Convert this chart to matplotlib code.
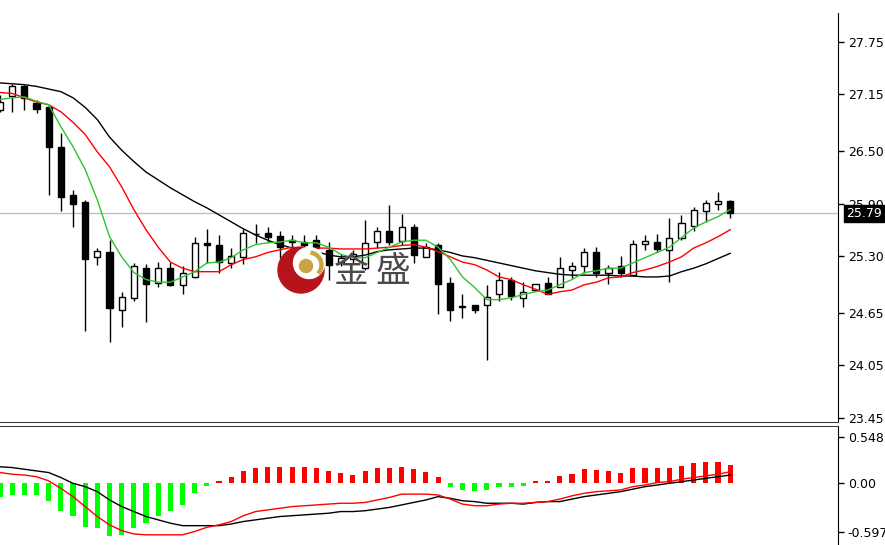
import matplotlib
matplotlib.use("Agg")
import matplotlib.pyplot as plt
from matplotlib.patches import Rectangle, Circle, Wedge
import numpy as np

# daily candles
opens = [26.97, 27.13, 27.24, 27.05, 27.01, 26.55, 26.00, 25.92, 25.29, 25.35,
         24.68, 24.82, 25.16, 24.99, 25.16, 24.97, 25.06, 25.45, 25.43, 25.22,
         25.29, 25.55, 25.56, 25.53, 25.48, 25.46, 25.48, 25.37, 25.23, 25.27,
         25.16, 25.46, 25.58, 25.47, 25.63, 25.29, 25.43, 24.99, 24.73, 24.74,
         24.74, 24.87, 25.02, 24.82, 24.91, 24.99, 24.94, 25.14, 25.18, 25.34,
         25.10, 25.18, 25.08, 25.44, 25.46, 25.37, 25.50, 25.64, 25.81, 25.90,
         25.93]
highs = [27.14, 27.27, 27.26, 27.09, 27.03, 26.71, 26.06, 25.94, 25.39, 25.48,
         24.89, 25.22, 25.21, 25.23, 25.23, 25.18, 25.52, 25.61, 25.54, 25.39,
         25.61, 25.67, 25.63, 25.58, 25.54, 25.54, 25.54, 25.46, 25.32, 25.37,
         25.71, 25.63, 25.88, 25.78, 25.67, 25.45, 25.45, 25.06, 24.87, 24.74,
         24.97, 25.12, 25.06, 25.00, 24.98, 25.06, 25.29, 25.23, 25.39, 25.40,
         25.20, 25.30, 25.48, 25.54, 25.55, 25.74, 25.77, 25.86, 25.94, 26.03,
         25.94]
lows = [26.95, 26.95, 26.97, 26.94, 26.00, 25.82, 25.63, 24.44, 25.20, 24.32,
        24.49, 24.78, 24.54, 24.95, 24.96, 24.87, 25.05, 25.22, 25.10, 25.16,
        25.21, 25.45, 25.46, 25.28, 25.37, 25.34, 25.39, 25.03, 25.19, 25.21,
        25.14, 25.39, 25.43, 25.43, 25.22, 25.29, 24.64, 24.56, 24.59, 24.65,
        24.11, 24.78, 24.80, 24.72, 24.91, 24.87, 24.94, 25.05, 25.11, 25.06,
        24.98, 25.06, 25.08, 25.37, 25.35, 25.00, 25.48, 25.58, 25.69, 25.83,
        25.74]
closes = [27.06, 27.24, 27.11, 26.98, 26.55, 25.98, 25.90, 25.27, 25.36, 24.70,
          24.83, 25.18, 24.98, 25.16, 24.97, 25.11, 25.45, 25.43, 25.23, 25.30,
          25.56, 25.55, 25.52, 25.40, 25.46, 25.42, 25.39, 25.20, 25.28, 25.32,
          25.45, 25.58, 25.46, 25.63, 25.31, 25.40, 24.98, 24.68, 24.72, 24.68,
          24.83, 25.02, 24.84, 24.89, 24.98, 24.87, 25.16, 25.18, 25.34, 25.11,
          25.16, 25.11, 25.44, 25.47, 25.38, 25.51, 25.68, 25.83, 25.91, 25.93,
          25.79]

# moving averages
ma_fast = [27.09, 27.11, 27.12, 27.07, 27.03, 26.78, 26.55, 26.29, 25.94, 25.52,
           25.29, 25.11, 25.03, 25.00, 25.00, 25.06, 25.12, 25.22, 25.23, 25.28,
           25.37, 25.43, 25.45, 25.46, 25.48, 25.45, 25.45, 25.40, 25.32, 25.28,
           25.28, 25.34, 25.40, 25.46, 25.48, 25.48, 25.40, 25.26, 25.06, 24.94,
           24.80, 24.80, 24.82, 24.86, 24.89, 24.91, 24.97, 25.03, 25.11, 25.13,
           25.16, 25.16, 25.22, 25.28, 25.34, 25.40, 25.51, 25.62, 25.69, 25.75,
           25.83]
ma_mid = [27.17, 27.16, 27.11, 27.06, 27.03, 26.95, 26.83, 26.69, 26.49, 26.32,
          26.09, 25.83, 25.60, 25.40, 25.23, 25.16, 25.12, 25.12, 25.12, 25.20,
          25.26, 25.29, 25.34, 25.37, 25.40, 25.39, 25.39, 25.39, 25.38, 25.38,
          25.38, 25.39, 25.40, 25.42, 25.43, 25.40, 25.35, 25.29, 25.23, 25.20,
          25.14, 25.06, 25.03, 24.97, 24.92, 24.86, 24.89, 24.91, 24.97, 25.00,
          25.05, 25.06, 25.11, 25.14, 25.18, 25.23, 25.29, 25.39, 25.45, 25.52,
          25.60]
ma_slow = [27.28, 27.27, 27.26, 27.24, 27.21, 27.18, 27.11, 27.00, 26.86, 26.66,
           26.51, 26.38, 26.26, 26.17, 26.08, 26.00, 25.92, 25.85, 25.77, 25.69,
           25.61, 25.54, 25.48, 25.43, 25.39, 25.37, 25.35, 25.31, 25.29, 25.29,
           25.31, 25.35, 25.37, 25.38, 25.39, 25.39, 25.37, 25.34, 25.30, 25.28,
           25.25, 25.22, 25.19, 25.16, 25.13, 25.11, 25.09, 25.08, 25.08, 25.08,
           25.08, 25.07, 25.07, 25.06, 25.06, 25.07, 25.12, 25.16, 25.21, 25.27,
           25.33]

# MACD panel
hist = [-0.17, -0.15, -0.15, -0.15, -0.22, -0.34, -0.40, -0.54, -0.55, -0.65,
        -0.63, -0.55, -0.49, -0.40, -0.34, -0.27, -0.13, -0.04, 0.02, 0.07,
        0.14, 0.18, 0.19, 0.19, 0.19, 0.19, 0.17, 0.14, 0.11, 0.09,
        0.14, 0.17, 0.18, 0.19, 0.16, 0.13, 0.07, -0.05, -0.09, -0.10,
        -0.09, -0.05, -0.05, -0.04, 0.02, 0.02, 0.08, 0.10, 0.16, 0.15,
        0.14, 0.12, 0.18, 0.18, 0.18, 0.18, 0.20, 0.24, 0.25, 0.25,
        0.21]
macd_main = [0.19, 0.18, 0.16, 0.14, 0.12, 0.06, -0.01, -0.05, -0.11, -0.21,
             -0.29, -0.35, -0.41, -0.45, -0.49, -0.52, -0.52, -0.52, -0.52, -0.50,
             -0.47, -0.45, -0.43, -0.41, -0.40, -0.39, -0.38, -0.37, -0.35, -0.35,
             -0.34, -0.32, -0.30, -0.27, -0.24, -0.21, -0.17, -0.19, -0.22, -0.23,
             -0.25, -0.25, -0.25, -0.26, -0.24, -0.23, -0.23, -0.20, -0.17, -0.15,
             -0.13, -0.11, -0.08, -0.05, -0.03, -0.01, 0.01, 0.03, 0.05, 0.07,
             0.09]
macd_signal = [0.12, 0.10, 0.09, 0.07, 0.02, -0.07, -0.17, -0.29, -0.41, -0.51,
               -0.58, -0.62, -0.63, -0.63, -0.63, -0.63, -0.59, -0.54, -0.51, -0.47,
               -0.40, -0.35, -0.33, -0.31, -0.29, -0.28, -0.27, -0.26, -0.25, -0.25,
               -0.24, -0.21, -0.18, -0.14, -0.14, -0.14, -0.15, -0.20, -0.26, -0.28,
               -0.28, -0.26, -0.25, -0.25, -0.24, -0.23, -0.20, -0.16, -0.13, -0.11,
               -0.10, -0.09, -0.05, -0.03, 0.00, 0.01, 0.04, 0.06, 0.08, 0.10,
               0.13]

price_ticks = [27.75, 27.15, 26.50, 25.90, 25.30, 24.65, 24.05, 23.45]
price_labels = ["27.75", "27.15", "26.50", "25.90", "25.30", "24.65", "24.05", "23.45"]
macd_ticks = [0.548, 0.0, -0.597]
macd_labels = ["0.548", "0.00", "-0.597"]
last_price = 25.79

W, H = 885, 545
fig = plt.figure(figsize=(W / 100, H / 100), dpi=100)
ax = fig.add_axes([0, (H - 422) / H, 838 / W, (422 - 13) / H])
ax2 = fig.add_axes([0, 0, 838 / W, (H - 426) / H])

n = len(closes)
idx = np.arange(n)

ax.axhline(last_price, color="#c0c0c0", lw=1, zorder=1)
ax.vlines(idx, lows, highs, color="black", lw=1, zorder=2)
for i in idx:
    o, c = opens[i], closes[i]
    body = max(abs(c - o), 0.004)
    ax.add_patch(Rectangle((i - 0.25, min(o, c)), 0.5, body,
                           facecolor="white" if c >= o else "black",
                           edgecolor="black", lw=1, zorder=3))

ax.plot(idx, ma_slow, color="black", lw=1, zorder=4)
ax.plot(idx, ma_mid, color="#ff0000", lw=1, zorder=4)
ax.plot(idx, ma_fast, color="#2ec42e", lw=1, zorder=4)

ax.set_xlim(0, 68.86)
ax.set_ylim(23.40, 28.08)
ax.set_xticks([])
ax.yaxis.tick_right()
ax.set_yticks(price_ticks)
ax.set_yticklabels(price_labels)
ax.tick_params(axis="y", length=4, width=1, pad=3, labelsize=9, colors="black")
for s in ["top", "left"]:
    ax.spines[s].set_visible(False)
ax.spines["bottom"].set_color("#404040")
ax.text(1.0095, last_price, "25.79", transform=ax.get_yaxis_transform(),
        color="white", fontsize=9, va="center", ha="left", clip_on=False,
        bbox=dict(boxstyle="square,pad=0.15", fc="black", ec="black"), zorder=10)

# MACD
colors = ["#ff0000" if v >= 0 else "#00ff00" for v in hist]
ax2.bar(idx, hist, width=0.42, color=colors, zorder=2)
ax2.plot(idx, macd_main, color="black", lw=1, zorder=3)
ax2.plot(idx, macd_signal, color="#ff0000", lw=1, zorder=3)
ax2.set_xlim(0, 68.86)
ax2.set_ylim(-0.753, 0.681)
ax2.set_xticks([])
ax2.yaxis.tick_right()
ax2.set_yticks(macd_ticks)
ax2.set_yticklabels(macd_labels)
ax2.tick_params(axis="y", length=4, width=1, pad=3, labelsize=9, colors="black")
for s in ["left", "bottom"]:
    ax2.spines[s].set_visible(False)
ax2.spines["top"].set_color("#404040")

# watermark logo
ov = fig.add_axes([0, 0, 1, 1], zorder=5)
ov.set_xlim(0, W)
ov.set_ylim(H, 0)
ov.axis("off")
ov.patch.set_alpha(0)
ov.add_patch(Circle((301, 270), 23, color="#b5141a"))
ov.add_patch(Circle((309, 263), 15.5, color="white"))
ov.add_patch(Wedge((309, 265), 14, -80, 40, width=3, color="#c9a441"))
ov.add_patch(Circle((306, 266), 6.5, color="#c9a441"))
ov.text(351, 272, "金", fontsize=25, color="#4a4a4a", ha="center", va="center",
        family=["Noto Sans CJK SC", "DejaVu Sans"])
ov.text(393, 272, "盛", fontsize=25, color="#4a4a4a", ha="center", va="center",
        family=["Noto Sans CJK SC", "DejaVu Sans"])

fig.savefig("out.png", dpi=100)
